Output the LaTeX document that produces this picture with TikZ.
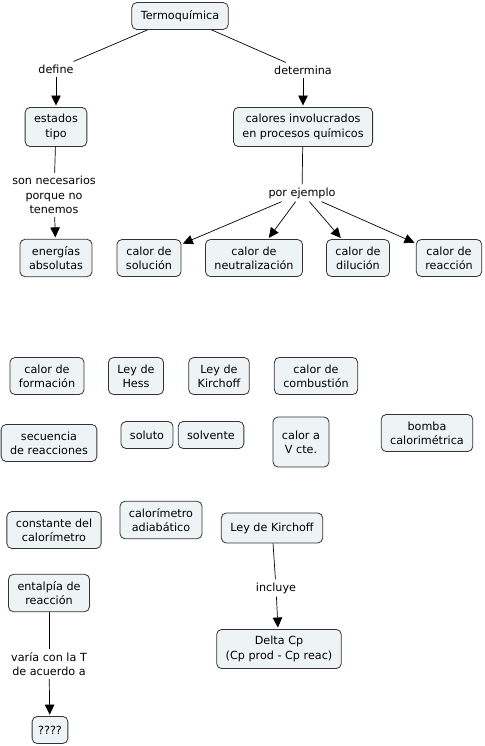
\documentclass[tikz,border=0pt]{standalone}
\usepackage{fontspec}
\setmainfont{DejaVu Sans}
\usetikzlibrary{arrows.meta}
\definecolor{conceptfill}{HTML}{EEF3F6}
\definecolor{conceptdraw}{HTML}{333333}
\tikzset{
  fig/.style={x=1pt,y=-1pt,font=\fontsize{11.2}{14.3}\selectfont},
  concept/.style={draw=conceptdraw,fill=conceptfill,rounded corners=5pt,line width=0.8pt,
                  align=center,inner xsep=9pt,inner ysep=7pt,minimum height=27pt},
  linkword/.style={align=center,inner sep=3pt,fill=white},
  ln/.style={line width=0.7pt},
  arr/.style={ln,-{Triangle[length=10pt,width=9.5pt]},shorten >=1.5pt},
}
\begin{document}
\begin{tikzpicture}[fig]
\useasboundingbox (0,0) rectangle (484,746);

% --- upper map ------------------------------------------------------
\node[concept] (termo) at (180,16) {Termoquímica};
\node[linkword] (define) at (56,69) {define};
\node[linkword] (determina) at (303,70) {determina};
\node[concept] (estados) at (56,127) {estados\\tipo};
\node[concept] (calores) at (303,127) {calores involucrados\\en procesos químicos};
\node[linkword] (necesarios) at (54,195) {son necesarios\\porque no\\tenemos};
\node[concept] (absolutas) at (56,258) {energías\\absolutas};
\node[linkword] (ejemplo) at (302,193) {por ejemplo};
\node[concept] (solucion) at (149,258) {calor de\\solución};
\node[concept] (neutral) at (254,258) {calor de\\neutralización};
\node[concept] (dilucion) at (358,258) {calor de\\dilución};
\node[concept] (reaccion) at (449,258) {calor de\\reacción};

\draw[ln] (termo) -- (define);
\draw[ln] (termo) -- (determina);
\draw[arr] (define) -- (estados);
\draw[arr] (determina) -- (calores);
\draw[ln] (estados) -- (necesarios);
\draw[arr] (necesarios) -- (absolutas);
\draw[ln] (calores) -- (ejemplo);
\foreach \target in {solucion,neutral,dilucion,reaccion}
  \draw[arr] (ejemplo) -- (\target);

% --- loose concepts -------------------------------------------------
\node[concept] (formacion) at (47,376) {calor de\\formación};
\node[concept] (hess) at (136,376) {Ley de\\Hess};
\node[concept] (kirchoffa) at (219,376) {Ley de\\Kirchoff};
\node[concept] (combustion) at (316,376) {calor de\\combustión};
\node[concept] (secuencia) at (49,443) {secuencia\\de reacciones};
\node[concept] (soluto) at (147,435) {soluto};
\node[concept] (solvente) at (211,435) {solvente};
\node[concept,minimum height=50pt] (vcte) at (301,442) {calor a\\V cte.};
\node[concept] (bomba) at (427,433) {bomba\\calorimétrica};
\node[concept] (constante) at (54,530) {constante del\\calorímetro};
\node[concept] (adiabatico) at (161,520) {calorímetro\\adiabático};

% --- lower map ------------------------------------------------------
\node[concept,minimum height=30pt] (kirchoffb) at (272,528) {Ley de Kirchoff};
\node[linkword] (incluye) at (276,588) {incluye};
\node[concept] (deltacp) at (279,649) {Delta Cp\\(Cp prod - Cp reac)};
\node[concept] (entalpia) at (49,593) {entalpía de\\reacción};
\node[linkword] (varia) at (49,664) {varía con la T\\de acuerdo a};
\node[concept,inner xsep=6pt] (incognita) at (50,730) {????};

\draw[ln] (kirchoffb) -- (incluye);
\draw[arr] (incluye) -- (deltacp);
\draw[ln] (entalpia) -- (varia);
\draw[arr] (varia) -- (incognita);

\end{tikzpicture}
\end{document}
